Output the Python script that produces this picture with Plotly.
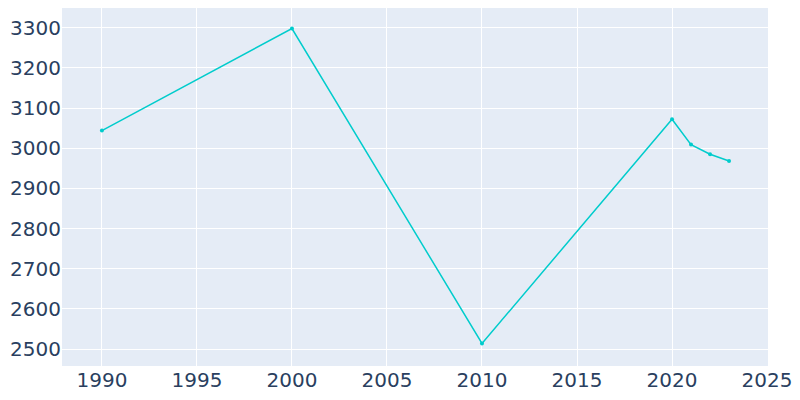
import plotly.graph_objects as go

years = [1990, 2000, 2010, 2020, 2021, 2022, 2023]
population = [3044, 3298, 2514, 3072, 3009, 2985, 2968]

fig = go.Figure(go.Scatter(x=years, y=population, mode="lines+markers",
                           line=dict(color="#00cccc", width=1.5),
                           marker=dict(size=4)))

fig.update_xaxes(range=[1987.9, 2025.05], tickvals=list(range(1990, 2030, 5)))
fig.update_yaxes(range=[2458, 3349], dtick=100)
fig.update_layout(template="plotly", width=800, height=400,
                  margin=dict(l=54, r=40, t=0, b=42, autoexpand=False),
                  font=dict(size=20, family="DejaVu Sans"),
                  showlegend=False)

fig.write_html("out.html")
